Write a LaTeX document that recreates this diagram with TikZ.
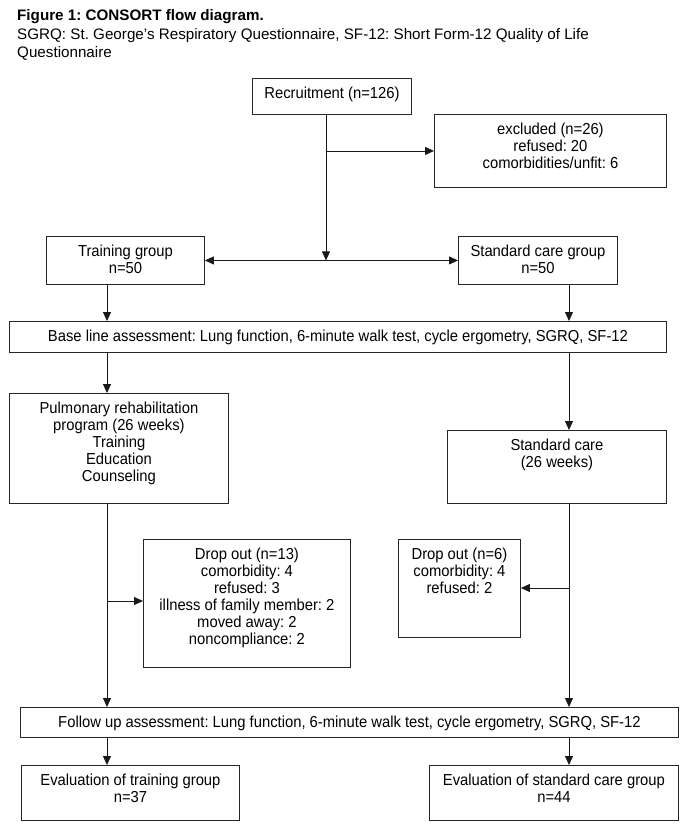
\documentclass[tikz,border=0pt]{standalone}
\usepackage{fontspec}
\setmainfont{Liberation Sans}[FakeStretch=0.93]
\newfontfamily\capfont{Liberation Sans}
\usetikzlibrary{arrows.meta}
\frenchspacing
\begin{document}
\frenchspacing
\begin{tikzpicture}[x=1pt,y=-1pt,
  box/.style={draw=black!85, line width=0.9pt, anchor=north west, inner sep=0pt},
  txt/.style={anchor=north, inner sep=0pt, align=center, font=\fontsize{15.9}{17}\selectfont},
  captext/.style={anchor=base west, inner sep=0pt, font=\capfont\fontsize{15.2}{18.5}\selectfont},
  conn/.style={draw=black!90, line width=0.8pt},
  arr/.style={conn, -{Triangle[length=9pt,width=8pt]}},
  arrtwo/.style={conn, {Triangle[length=9pt,width=8pt]}-{Triangle[length=9pt,width=8pt]}},
]
\fill[white] (0,0) rectangle (685,830);
\useasboundingbox (0,0) rectangle (685,830);

% caption
\node[captext, font=\capfont\fontsize{15.2}{18.5}\selectfont\bfseries] (title) at (17,20.5) {Figure 1: CONSORT flow diagram.};
\node[captext] (sub1) at (17,39.2) {SGRQ: St. George’s Respiratory Questionnaire, SF-12: Short Form-12 Quality of Life};
\node[captext] (sub2) at (17,57.5) {Questionnaire};

% boxes
\node[box, minimum width=159pt, minimum height=36pt] (rec) at (252,78) {};
\node[box, minimum width=232pt, minimum height=73pt] (excl) at (434,114) {};
\node[box, minimum width=158pt, minimum height=48pt] (train) at (46,236) {};
\node[box, minimum width=159pt, minimum height=48pt] (stdg) at (458,236) {};
\node[box, minimum width=657pt, minimum height=31pt] (base) at (9,321) {};
\node[box, minimum width=219pt, minimum height=110pt] (pulm) at (9,393) {};
\node[box, minimum width=219pt, minimum height=73pt] (stdc) at (447,430) {};
\node[box, minimum width=207pt, minimum height=128pt] (drop13) at (143,539) {};
\node[box, minimum width=122pt, minimum height=98pt] (drop6) at (398,539) {};
\node[box, minimum width=658pt, minimum height=30pt] (follow) at (20,707) {};
\node[box, minimum width=218pt, minimum height=55pt] (evalT) at (21,765) {};
\node[box, minimum width=249pt, minimum height=55pt] (evalS) at (429,765) {};

% texts
\node[txt] (recT) at ([yshift=-8.1pt]rec.north) {\strut Recruitment (n=126)};
\node[txt] (exclT) at ([yshift=-8.1pt]excl.north) {\strut excluded (n=26)\\refused: 20\\comorbidities/unfit: 6};
\node[txt] (trainT) at ([yshift=-8.1pt]train.north) {\strut Training group\\n=50};
\node[txt] (stdgT) at ([yshift=-8.1pt]stdg.north) {\strut Standard care group\\n=50};
\node[txt] (baseT) at ([yshift=-8.1pt]base.north) {\strut Base line assessment: Lung function, 6-minute walk test, cycle ergometry, SGRQ, SF-12};
\node[txt] (pulmT) at ([yshift=-8.1pt]pulm.north) {\strut Pulmonary rehabilitation\\program (26 weeks)\\Training\\Education\\Counseling};
\node[txt] (stdcT) at ([yshift=-8.1pt]stdc.north) {\strut Standard care\\(26 weeks)};
\node[txt] (drop13T) at ([yshift=-8.1pt]drop13.north) {\strut Drop out (n=13)\\comorbidity: 4\\refused: 3\\illness of family member: 2\\moved away: 2\\noncompliance: 2};
\node[txt] (drop6T) at ([yshift=-8.1pt]drop6.north) {\strut Drop out (n=6)\\comorbidity: 4\\refused: 2};
\node[txt] (followT) at ([yshift=-8.1pt]follow.north) {\strut Follow up assessment: Lung function, 6-minute walk test, cycle ergometry, SGRQ, SF-12};
\node[txt] (evalTT) at ([yshift=-8.1pt]evalT.north) {\strut Evaluation of training group\\n=37};
\node[txt] (evalST) at ([yshift=-8.1pt]evalS.north) {\strut Evaluation of standard care group\\n=44};

% connector columns
\coordinate (L) at (107,0);
\coordinate (R) at (569,0);
\coordinate (M) at (326,0);
\coordinate (b13) at (107,601);
\coordinate (b6) at (569,588);

\draw[arr] (rec.south -| M) -- (train.east -| M);
\draw[arr] (excl.west -| M) -- (excl.west);
\draw[arrtwo] (train.east) -- (stdg.west);
\draw[arr] (train.south -| L) -- (base.north -| L);
\draw[arr] (stdg.south -| R) -- (base.north -| R);
\draw[arr] (base.south -| L) -- (pulm.north -| L);
\draw[arr] (base.south -| R) -- (stdc.north -| R);
\draw[arr] (pulm.south -| L) -- (follow.north -| L);
\draw[arr] (b13) -- (b13 -| drop13.west);
\draw[arr] (stdc.south -| R) -- (follow.north -| R);
\draw[arr] (b6) -- (b6 -| drop6.east);
\draw[arr] (follow.south -| L) -- (evalT.north -| L);
\draw[arr] (follow.south -| R) -- (evalS.north -| R);
\end{tikzpicture}
\end{document}
